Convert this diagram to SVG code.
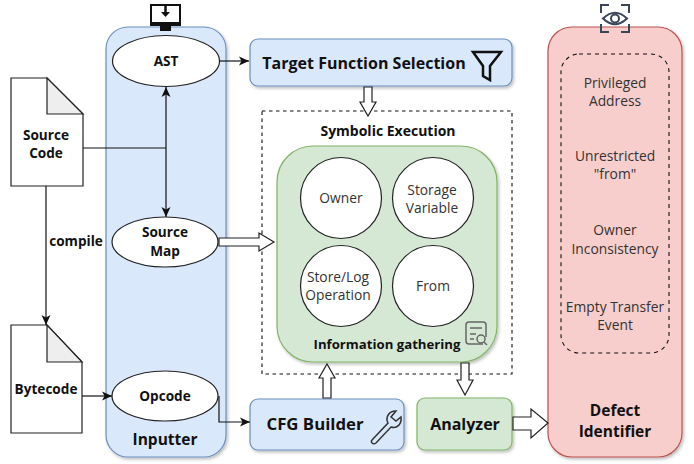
<svg xmlns="http://www.w3.org/2000/svg" width="694" height="464" viewBox="0 0 694 464">
<style>
text{font-family:"Open Sans","Liberation Sans",Arial,sans-serif;text-anchor:middle;fill:#111}
.b{font-weight:700}
.s{font-size:13.600px}.g{font-size:13.800px;fill:#333}
.m{font-size:16px}.l{font-size:15.500px}
.blue{fill:#dae8fc;stroke:#6c8ebf;stroke-width:1.2}
.green{fill:#d5e8d4;stroke:#82b366;stroke-width:1.2}
.red{fill:#f8cecc;stroke:#b85450;stroke-width:1.2}
.el{fill:#fff;stroke:#222;stroke-width:1.2}
.ln{fill:none;stroke:#111;stroke-width:1.2}
.ar{fill:#fff;stroke:#222;stroke-width:1.2;stroke-linejoin:miter}
.dash{fill:none;stroke:#111;stroke-width:1.1;stroke-dasharray:3.500 3.500}
.ico{fill:none;stroke:#111;stroke-width:2}
</style>
<defs>
<marker id="a" markerUnits="userSpaceOnUse" markerWidth="12" markerHeight="10" refX="10" refY="5" orient="auto-start-reverse"><path d="M0 0.500L10 5L0 9.500L2.500 5Z" fill="#111"/></marker>
<filter id="sh" x="-10%" y="-10%" width="120%" height="120%"><feDropShadow dx="1.500" dy="2" stdDeviation="1.500" flood-color="#000" flood-opacity=".25"/></filter>
</defs>

<g id="inputter"><rect class="blue" filter="url(#sh)" x="106" y="27" width="120" height="430" rx="22"/><text class="b l" x="165" y="445">Inputter</text></g>
<g id="defect-identifier"><rect class="red" filter="url(#sh)" x="548" y="27" width="134" height="430" rx="24"/>
<text class="b l" x="615" y="416">Defect</text><text class="b l" x="615" y="437">Identifier</text></g>

<g id="symbolic-execution"><rect class="dash" x="262" y="111" width="250" height="263"/><text class="b s" x="388" y="136" style="font-size:14px">Symbolic Execution</text></g>

<g id="source-code"><path d="M11 78H47L83 114V186H11Z" fill="#fff" stroke="#222" stroke-width="1.2"/><path d="M47 78L83 114H47Z" fill="#eee" stroke="#222" stroke-width="1.2"/>
<text class="b s" x="46" y="140">Source</text><text class="b s" x="46" y="158">Code</text></g>
<g id="bytecode"><path d="M11 325H47L82 362V433H11Z" fill="#fff" stroke="#222" stroke-width="1.2"/><path d="M47 325L82 362H47Z" fill="#eee" stroke="#222" stroke-width="1.2"/>
<text class="b s" x="46" y="394">Bytecode</text></g>

<g id="ast"><ellipse class="el" cx="166" cy="61" rx="53.500" ry="25.500"/><text class="b s" x="166" y="66">AST</text></g>
<g id="source-map"><ellipse class="el" cx="165" cy="242" rx="53" ry="25"/><text class="b s" x="165" y="237">Source</text><text class="b s" x="165" y="256">Map</text></g>
<g id="opcode"><ellipse class="el" cx="165" cy="396" rx="53" ry="25"/><text class="b s" x="165" y="401">Opcode</text></g>

<g id="target-function-selection"><rect class="blue" filter="url(#sh)" x="250" y="39" width="262" height="47" rx="8"/><text class="b m" x="364" y="69">Target Function Selection</text>
<path d="M473 52H501L490 66V80L483 76V66Z" class="ico" stroke-linejoin="miter" style="stroke-width:2.500"/></g>

<g id="information-gathering"><rect class="green" filter="url(#sh)" x="277" y="146" width="220" height="216" rx="36"/>
<text class="b s" x="387" y="349" style="font-size:13.200px">Information gathering</text>
<g fill="none" stroke="#666" stroke-width="1.500"><path d="M483 344H469Q466 344 466 341V325Q466 322 469 322H483Q486 322 486 325V337"/><path d="M470 328H482M470 334H476M470 339H474"/><circle cx="481" cy="339" r="4"/><path d="M484 342L487 345"/></g></g>
<g id="owner"><circle class="el" cx="341" cy="198" r="40.500"/><text class="g" x="341" y="203">Owner</text></g>
<g id="storage-variable"><circle class="el" cx="433" cy="198" r="40.500"/><text class="g" x="432" y="195">Storage</text><text class="g" x="432" y="213">Variable</text></g>
<g id="store-log-operation"><circle class="el" cx="341" cy="286" r="40.500"/><text class="g" x="338" y="282">Store/Log</text><text class="g" x="338" y="300">Operation</text></g>
<g id="from"><circle class="el" cx="433" cy="286" r="40.500"/><text class="g" x="433" y="291">From</text></g>

<g id="cfg-builder"><rect class="blue" filter="url(#sh)" x="250" y="399" width="154" height="51" rx="8"/><text class="b l" x="315" y="430" style="font-size:16.800px">CFG Builder</text>
<path d="M372 440L388 423C385 417 389 411 396 411L391 417L396 421L401 417C402 424 397 429 391 427L376 443C373 445 370 442 372 440Z" class="ico" style="stroke-width:1.500;stroke:#333"/></g>
<g id="analyzer"><rect class="green" filter="url(#sh)" x="417" y="398" width="95" height="52" rx="8"/><text class="b l" x="465" y="430" style="font-size:16px">Analyzer</text></g>

<g id="defect-list"><rect class="dash" x="561" y="54" width="108" height="299" rx="18" style="stroke-dasharray:4 4"/>
<text class="g" x="615" y="88">Privileged</text><text class="g" x="615" y="106">Address</text>
<text class="g" x="615" y="161">Unrestricted</text><text class="g" x="615" y="179">"from"</text>
<text class="g" x="615" y="235">Owner</text><text class="g" x="615" y="254">Inconsistency</text>
<text class="g" x="615" y="312">Empty Transfer</text><text class="g" x="615" y="330">Event</text></g>

<g id="monitor-icon"><path d="M151 5H180V25H151Z" fill="#fff" stroke="#111" stroke-width="2"/><path d="M151 22H180V25H151Z M160 25H171V31H160Z" fill="#111"/><path d="M165.500 5V14" stroke="#111" stroke-width="2.500"/><path d="M161 12H170L165.500 17Z" fill="#111"/></g>
<g id="eye-icon" fill="none" stroke="#3a4658" stroke-width="2"><path d="M601 13V5H609M621 5H629V13M629 24V32H621M609 32H601V24"/><path d="M603 18.500Q615 7 627 18.500Q615 30 603 18.500Z"/><circle cx="615" cy="18.500" r="4"/></g>

<g id="connectors">
<path class="ln" marker-end="url(#a)" d="M219 61H249"/>
<path class="ln" marker-start="url(#a)" marker-end="url(#a)" d="M166 87V217"/>
<path class="ln" d="M83 148H166"/>
<path class="ln" marker-end="url(#a)" d="M46 186V325"/>
<path class="ln" marker-end="url(#a)" d="M82 396H112"/>
<path class="ln" marker-end="url(#a)" d="M219 396V422H250"/>
<path class="ar" d="M364 87H372V102H376L368 116L360 102H364Z"/>
<path class="ar" d="M219 238H259V233L274 242L259 251V246H219Z"/>
<path class="ar" d="M323 398V378H319L327 364L335 378H331V398Z"/>
<path class="ar" d="M461 363H469V380H473L465 395L457 380H461Z"/>
<path class="ar" d="M513 417H531V409L548 423L531 438V430H513Z"/>
<text class="b s" x="76" y="246">compile</text>
</g>
</svg>
